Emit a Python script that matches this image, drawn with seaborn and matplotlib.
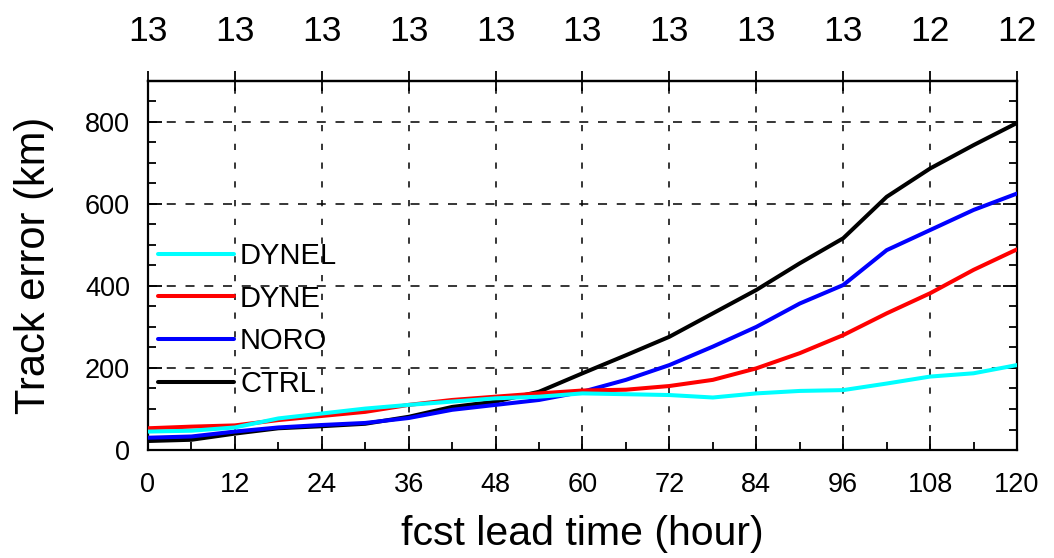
import pandas as pd
import matplotlib
matplotlib.use('Agg')
import matplotlib.pyplot as plt
import seaborn as sns
from matplotlib.ticker import MultipleLocator

# forecast lead time (hour) and track errors (km)
hours = [0, 6, 12, 18, 24, 30, 36, 42, 48, 54, 60, 66, 72, 78, 84, 90, 96, 102, 108, 114, 120]
ctrl = [22, 25, 40, 53, 58, 64, 81, 105, 118, 142, 187, 231, 276, 333, 390, 455, 516, 617, 686, 743, 797]
noro = [30, 33, 45, 55, 61, 66, 78, 98, 110, 122, 142, 171, 207, 252, 300, 357, 402, 487, 536, 585, 625]
dyne = [53, 57, 60, 73, 83, 93, 110, 122, 130, 138, 145, 147, 156, 171, 199, 236, 280, 333, 382, 439, 489]
dynel = [45, 47, 55, 77, 89, 101, 110, 118, 126, 130, 138, 136, 134, 128, 138, 144, 146, 162, 179, 187, 207]

# number of cases, shown along the top axis
top_hours = [0, 12, 24, 36, 48, 60, 72, 84, 96, 108, 120]
sample_counts = ['13', '13', '13', '13', '13', '13', '13', '13', '13', '12', '12']

series = {'CTRL': ctrl, 'NORO': noro, 'DYNE': dyne, 'DYNEL': dynel}
colors = {'CTRL': 'black', 'NORO': '#0000ff', 'DYNE': '#ff0000', 'DYNEL': '#00ffff'}
legend_order = ['DYNEL', 'DYNE', 'NORO', 'CTRL']

sns.set_style('ticks')
plt.rcParams['font.family'] = ['Liberation Sans', 'DejaVu Sans']
plt.rcParams['lines.scale_dashes'] = False
for key in ['text.color', 'axes.labelcolor', 'xtick.color', 'ytick.color', 'axes.edgecolor']:
    plt.rcParams[key] = 'black'

fig = plt.figure(figsize=(10.54, 5.58), dpi=100)
ax = fig.add_axes([0.1404, 0.1935, 0.8245, 0.6619])

df = pd.DataFrame({'hour': hours, **series})
for i, name in enumerate(series):
    sns.lineplot(x='hour', y=name, data=df, ax=ax, color=colors[name],
                 linewidth=2.9, label=name, zorder=3 + i)

ax.set_xlim(0, 120)
ax.set_ylim(0, 900)
ax.xaxis.set_major_locator(MultipleLocator(12))
ax.xaxis.set_minor_locator(MultipleLocator(6))
ax.yaxis.set_major_locator(MultipleLocator(200))
ax.yaxis.set_minor_locator(MultipleLocator(50))

ax.xaxis.grid(True, color='black', linewidth=1.1, linestyle=(0, (4.5, 9)))
ax.yaxis.grid(True, color='black', linewidth=1.1, linestyle=(0, (6.5, 7)))

ax.tick_params(which='both', direction='in', right=True, top=False,
               width=1.3, labelsize=19.5)
ax.tick_params(axis='x', pad=16)
ax.tick_params(axis='y', pad=13)
ax.tick_params(which='major', length=10)
ax.tick_params(which='minor', length=6)
for s in ax.spines.values():
    s.set_linewidth(1.6)

secax = ax.secondary_xaxis('top')
secax.set_xticks(top_hours, labels=sample_counts)
secax.tick_params(direction='inout', length=15, width=1.3, labelsize=25.5, pad=16)
secax.spines['top'].set_linewidth(1.6)

ax.set_xlabel('fcst lead time (hour)', fontsize=29.5, labelpad=12)
ax.set_ylabel('Track error (km)', fontsize=30, labelpad=22)

handles, labels = ax.get_legend_handles_labels()
hmap = dict(zip(labels, handles))
ax.legend([hmap[n] for n in legend_order], legend_order, loc='upper left',
          bbox_to_anchor=(0.012, 0.563), frameon=False, fontsize=21,
          handlelength=2.6, handletextpad=0.2, labelspacing=0.5,
          borderpad=0, borderaxespad=0)

fig.savefig('out.png', dpi=100)
